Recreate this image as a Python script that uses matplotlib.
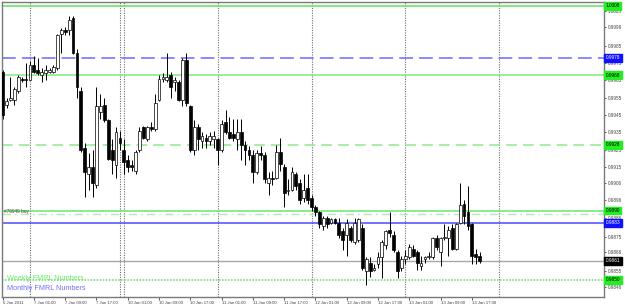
import matplotlib
matplotlib.use("Agg")
import matplotlib.pyplot as plt

# hourly candles, 6 Jan 2011 17:00 -> 13 Jan 2011 ~19:00 (bar index = position)
opens = [0.9970, 0.9951, 0.9954, 0.9954, 0.9959, 0.9966, 0.9966, 0.9965, 0.9974, 0.9971,
         0.9968, 0.9969, 0.9970, 0.9970, 0.9972, 0.9992, 0.9994, 0.9994, 1.0001, 0.9981,
         0.9959, 0.9926, 0.9911, 0.9915, 0.9905, 0.9947, 0.9951, 0.9942, 0.9925, 0.9916,
         0.9932, 0.9925, 0.9919, 0.9916, 0.9913, 0.9925, 0.9938, 0.9931, 0.9938, 0.9937,
         0.9954, 0.9966, 0.9965, 0.9968, 0.9964, 0.9964, 0.9954, 0.9977, 0.9950, 0.9925,
         0.9938, 0.9930, 0.9932, 0.9930, 0.9931, 0.9931, 0.9925, 0.9941, 0.9935, 0.9934,
         0.9931, 0.9935, 0.9928, 0.9925, 0.9922, 0.9912, 0.9923, 0.9922, 0.9906, 0.9909,
         0.9909, 0.9924, 0.9915, 0.9901, 0.9902, 0.9911, 0.9906, 0.9897, 0.9903, 0.9897,
         0.9892, 0.9889, 0.9881, 0.9886, 0.9883, 0.9885, 0.9883, 0.9878, 0.9876, 0.9880,
         0.9872, 0.9873, 0.9880, 0.9855, 0.9860, 0.9856, 0.9859, 0.9863, 0.9870, 0.9879,
         0.9876, 0.9866, 0.9857, 0.9862, 0.9863, 0.9868, 0.9866, 0.9858, 0.9862, 0.9863,
         0.9863, 0.9874, 0.9866, 0.9874, 0.9874, 0.9880, 0.9868, 0.9883, 0.9894, 0.9889,
         0.9882, 0.9865, 0.9864]
closes = [0.9945, 0.9953, 0.9955, 0.9960, 0.9967, 0.9965, 0.9965, 0.9974, 0.9970, 0.9969,
          0.9970, 0.9971, 0.9971, 0.9973, 0.9991, 0.9994, 0.9993, 1.0000, 0.9981, 0.9961,
          0.9925, 0.9912, 0.9915, 0.9906, 0.9950, 0.9950, 0.9942, 0.9920, 0.9919, 0.9935,
          0.9929, 0.9918, 0.9915, 0.9915, 0.9924, 0.9936, 0.9932, 0.9938, 0.9937, 0.9952,
          0.9966, 0.9967, 0.9967, 0.9961, 0.9965, 0.9954, 0.9977, 0.9952, 0.9925, 0.9938,
          0.9931, 0.9933, 0.9930, 0.9933, 0.9933, 0.9925, 0.9940, 0.9935, 0.9932, 0.9932,
          0.9935, 0.9928, 0.9925, 0.9922, 0.9912, 0.9923, 0.9922, 0.9908, 0.9909, 0.9908,
          0.9924, 0.9917, 0.9900, 0.9902, 0.9912, 0.9904, 0.9896, 0.9902, 0.9896, 0.9892,
          0.9889, 0.9882, 0.9886, 0.9882, 0.9885, 0.9883, 0.9876, 0.9873, 0.9883, 0.9873,
          0.9883, 0.9885, 0.9857, 0.9862, 0.9855, 0.9857, 0.9863, 0.9872, 0.9878, 0.9877,
          0.9867, 0.9855, 0.9862, 0.9864, 0.9869, 0.9864, 0.9860, 0.9860, 0.9863, 0.9864,
          0.9874, 0.9869, 0.9874, 0.9875, 0.9879, 0.9868, 0.9882, 0.9893, 0.9887, 0.9881,
          0.9864, 0.9863, 0.9861]
highs = [0.9971, 0.9955, 0.9967, 0.9961, 0.9968, 0.9967, 0.9975, 0.9976, 0.9979, 0.9978,
         0.9972, 0.9974, 0.9972, 0.9974, 0.9992, 0.9995, 0.9996, 1.0002, 1.0002, 0.9983,
         0.9961, 0.9929, 0.9923, 0.9925, 0.9961, 0.9957, 0.9955, 0.9943, 0.9931, 0.9938,
         0.9936, 0.9931, 0.9922, 0.9919, 0.9925, 0.9938, 0.9939, 0.9939, 0.9941, 0.9957,
         0.9968, 0.9969, 0.9981, 0.9970, 0.9967, 0.9965, 0.9978, 0.9981, 0.9951, 0.9942,
         0.9940, 0.9935, 0.9934, 0.9935, 0.9936, 0.9932, 0.9942, 0.9948, 0.9944, 0.9943,
         0.9943, 0.9943, 0.9930, 0.9927, 0.9925, 0.9925, 0.9927, 0.9924, 0.9912, 0.9913,
         0.9928, 0.9932, 0.9917, 0.9908, 0.9915, 0.9912, 0.9908, 0.9911, 0.9911, 0.9899,
         0.9893, 0.9890, 0.9887, 0.9887, 0.9886, 0.9886, 0.9886, 0.9880, 0.9885, 0.9881,
         0.9886, 0.9886, 0.9882, 0.9863, 0.9863, 0.9859, 0.9866, 0.9873, 0.9879, 0.9889,
         0.9878, 0.9867, 0.9864, 0.9867, 0.9871, 0.9870, 0.9867, 0.9864, 0.9864, 0.9866,
         0.9875, 0.9876, 0.9875, 0.9882, 0.9881, 0.9882, 0.9883, 0.9906, 0.9896, 0.9904,
         0.9883, 0.9868, 0.9866]
lows = [0.9943, 0.9949, 0.9953, 0.9951, 0.9958, 0.9964, 0.9961, 0.9965, 0.9969, 0.9968,
        0.9964, 0.9965, 0.9969, 0.9969, 0.9971, 0.9981, 0.9991, 0.9991, 0.9980, 0.9955,
        0.9924, 0.9898, 0.9902, 0.9898, 0.9903, 0.9943, 0.9941, 0.9919, 0.9911, 0.9909,
        0.9925, 0.9911, 0.9912, 0.9913, 0.9911, 0.9924, 0.9931, 0.9930, 0.9936, 0.9936,
        0.9953, 0.9964, 0.9964, 0.9955, 0.9959, 0.9953, 0.9950, 0.9950, 0.9924, 0.9922,
        0.9925, 0.9926, 0.9926, 0.9928, 0.9926, 0.9916, 0.9924, 0.9934, 0.9931, 0.9930,
        0.9925, 0.9919, 0.9916, 0.9919, 0.9906, 0.9911, 0.9919, 0.9906, 0.9899, 0.9905,
        0.9908, 0.9913, 0.9892, 0.9899, 0.9901, 0.9902, 0.9894, 0.9895, 0.9894, 0.9890,
        0.9887, 0.9880, 0.9879, 0.9880, 0.9882, 0.9882, 0.9874, 0.9867, 0.9864, 0.9872,
        0.9871, 0.9872, 0.9856, 0.9847, 0.9852, 0.9855, 0.9857, 0.9851, 0.9868, 0.9875,
        0.9866, 0.9851, 0.9855, 0.9859, 0.9862, 0.9863, 0.9856, 0.9856, 0.9860, 0.9862,
        0.9862, 0.9867, 0.9858, 0.9873, 0.9864, 0.9867, 0.9867, 0.9882, 0.9882, 0.9879,
        0.9859, 0.9859, 0.9860]

# day separators (bar index), time-axis labels
day_breaks = [7, 30, 31, 55, 79, 103, 127]
time_ticks = [0, 8, 16, 24, 32, 40, 48, 56, 64, 72, 80, 88, 96, 104, 112, 120]
time_labels = ["6 Jan 2011", "7 Jan 01:00", "7 Jan 09:00", "7 Jan 17:00",
               "10 Jan 01:00", "10 Jan 09:00", "10 Jan 17:00", "11 Jan 01:00",
               "11 Jan 09:00", "11 Jan 17:00", "12 Jan 01:00", "12 Jan 09:00",
               "12 Jan 17:00", "13 Jan 01:00", "13 Jan 09:00", "13 Jan 17:00"]
price_ticks = [1.0005, 0.9996, 0.9985, 0.9975, 0.9965, 0.9955, 0.9945, 0.9935, 0.9925,
               0.9915, 0.9906, 0.9896, 0.9886, 0.9875, 0.9866, 0.9855, 0.9846]

# FMRL levels: (price, colour, linestyle, label box colour, label text colour)
levels = [
    (1.0008, "#5fe35f", "-", "#22ee22", "black"),
    (0.9978, "#6a6aff", (0, (9, 4)), "#1010ff", "white"),
    (0.9968, "#7fe87f", "-", "#22ee22", "black"),
    (0.9928, "#8ee88e", (0, (7, 4)), "#22ee22", "black"),
    (0.9890, "#6ae86a", "-", "#22ee22", "black"),
    (0.9883, "#4a4aff", "-", "#1010ff", "white"),
    (0.9850, "#6ad86a", (0, (1, 1)), "#22ee22", "black"),
]
trade_price = 0.9888
bid_price = closes[-1]

plt.rcParams["font.family"] = ["Liberation Sans", "DejaVu Sans"]

fig = plt.figure(figsize=(6.25, 3.07), dpi=100)
ax = fig.add_axes([2 / 625, 1 - 297 / 307, 602 / 625, 295 / 307])
ax.set_xlim(-0.16, 153.8)
ax.set_ylim(0.98402, 1.00102)

for d in day_breaks:
    ax.axvline(d, color="#707070", lw=0.8, ls=(0, (1, 1.2)), zorder=1)

for price, col, ls, box, txt in levels:
    ax.axhline(price, color=col, lw=1.1, ls=ls, zorder=1)
ax.axhline(trade_price, color="#b5e8b5", lw=1.0, ls=(0, (6, 3, 1, 3)), zorder=1)
ax.axhline(bid_price, color="#a8a8a8", lw=1.0, zorder=1)

# candles
idx = list(range(len(opens)))
ax.vlines(idx, lows, highs, color="black", lw=0.7, zorder=2)
for i, o, c in zip(idx, opens, closes):
    bottom = min(o, c)
    h = max(abs(c - o), 0.00004)
    if c >= o:
        ax.bar(i, h, bottom=bottom, width=0.72, color="white", edgecolor="black",
               linewidth=0.5, zorder=3)
    else:
        ax.bar(i, h, bottom=bottom, width=0.72, color="black", edgecolor="black",
               linewidth=0.5, zorder=3)

# axes styling
for s in ax.spines.values():
    s.set_color("#7a7a7a")
    s.set_linewidth(1)
ax.yaxis.tick_right()
ax.set_yticks(price_ticks)
ax.set_yticklabels([f"{p:.4f}" for p in price_ticks])
ax.tick_params(axis="y", length=1.5, width=0.6, pad=1, labelsize=3.3, colors="#404040")
ax.set_xticks(time_ticks)
ax.set_xticklabels(time_labels, ha="left")
ax.tick_params(axis="x", length=2, width=0.6, pad=1, labelsize=3.1, colors="#404040")

# price labels for the levels on the right scale
for price, col, ls, box, txt in levels + [(bid_price, None, None, "black", "white")]:
    ax.annotate(f"{price:.4f}", xy=(1.0, price), xycoords=("axes fraction", "data"),
                xytext=(1.2, 0), textcoords="offset points", ha="left", va="center",
                fontsize=3.4, color=txt, zorder=6,
                bbox=dict(boxstyle="square,pad=0.3", fc=box, ec=box))

ax.text(0.004, trade_price, "#76949 buy", fontsize=3.4, color="#404040",
        va="bottom", ha="left", transform=ax.get_yaxis_transform())
ax.text(0.009, 0.064, "Weekly FMRL Numbers", fontsize=5.2, color="#66ee66",
        transform=ax.transAxes, va="center", ha="left")
ax.text(0.009, 0.030, "Monthly FMRL Numbers", fontsize=5.2, color="#7070ff",
        transform=ax.transAxes, va="center", ha="left")

fig.savefig("out.png", dpi=100, facecolor="white")
